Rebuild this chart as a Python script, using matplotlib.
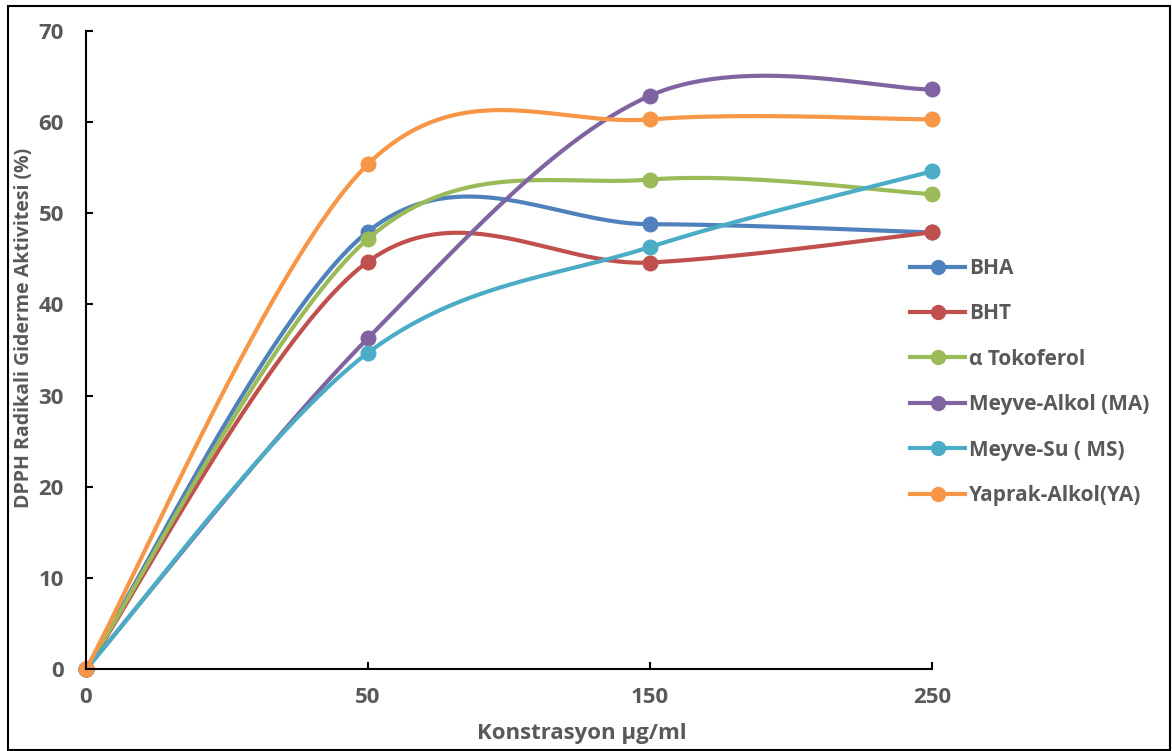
import numpy as np
import matplotlib
matplotlib.use("Agg")
import matplotlib.pyplot as plt
from matplotlib.patches import Rectangle

# data (x axis is categorical)
konsantrasyon = ["0", "50", "150", "250"]
bha = [0, 48.0, 48.8, 47.9]
bht = [0, 44.7, 44.6, 47.9]
tokoferol = [0, 47.2, 53.7, 52.1]
meyve_alkol = [0, 36.3, 62.9, 63.6]
meyve_su = [0, 34.7, 46.3, 54.6]
yaprak_alkol = [0, 55.4, 60.3, 60.3]

series = [
    ("BHA", bha, "#4F81BD"),
    ("BHT", bht, "#C0504D"),
    ("\u03b1 Tokoferol", tokoferol, "#9BBB59"),
    ("Meyve-Alkol (MA)", meyve_alkol, "#8064A2"),
    ("Meyve-Su ( MS)", meyve_su, "#4BACC6"),
    ("Yaprak-Alkol(YA)", yaprak_alkol, "#F79646"),
]

GRAY = "#595959"
plt.rcParams['font.family'] = ['Open Sans', 'DejaVu Sans']
plt.rcParams['font.weight'] = 'bold'


def smooth(xs, ys, n=60):
    """ Excel-like smoothed line (Catmull-Rom as cubic Bezier) """
    p = np.column_stack([xs, ys]).astype(float)
    ext = np.vstack([p[0], p, p[-1]])
    out = []
    t = np.linspace(0, 1, n)[:, None]
    for i in range(len(p) - 1):
        p0, p3 = p[i], p[i + 1]
        c1 = p0 + (ext[i + 2] - ext[i]) / 6.0
        c2 = p3 - (ext[i + 3] - ext[i + 1]) / 6.0
        seg = ((1 - t) ** 3) * p0 + 3 * ((1 - t) ** 2) * t * c1 \
            + 3 * (1 - t) * t ** 2 * c2 + t ** 3 * p3
        out.append(seg if i == 0 else seg[1:])
    seg = np.vstack(out)
    return seg[:, 0], seg[:, 1]


fig = plt.figure(figsize=(11.72, 7.51), dpi=100)
ax = fig.add_axes([86 / 1172, 1 - 669 / 751, (932 - 86) / 1172, (669 - 31) / 751])

xs = np.arange(len(konsantrasyon))
for label, vals, color in series:
    sx, sy = smooth(xs, vals)
    ax.plot(sx, sy, color=color, lw=3.0, solid_capstyle='round', clip_on=False)
    ax.plot(xs, vals, 'o', color=color, ms=10.5, clip_on=False)
    # legend proxy
    ax.plot([], [], '-o', color=color, lw=3.0, ms=10, label=label)

ax.set_xlim(0, 3)
ax.set_ylim(0, 70)
ax.set_xticks(xs)
ax.set_xticklabels(konsantrasyon)
ax.set_yticks(np.arange(0, 71, 10))

for s in ['top', 'right']:
    ax.spines[s].set_visible(False)
for s in ['left', 'bottom']:
    ax.spines[s].set_color('black')
    ax.spines[s].set_linewidth(1.5)

ax.tick_params(direction='in', length=5, width=1.5, colors='black',
               labelcolor=GRAY, labelsize=16)
ax.tick_params(axis='y', pad=16)
ax.tick_params(axis='x', pad=13)

ax.set_xlabel('Konstrasyon \u00b5g/ml', fontsize=16, color=GRAY, fontweight='bold')
ax.set_ylabel('DPPH Radikali Giderme Aktivitesi (%)', fontsize=14, color=GRAY,
              fontweight='bold')
ax.xaxis.set_label_coords(0.586, -0.085)
ax.yaxis.set_label_coords(-0.061, 0.535)

leg = ax.legend(loc='upper left', bbox_to_anchor=(910 / 1172, 1 - 258 / 751),
                bbox_transform=fig.transFigure, frameon=False, fontsize=15,
                handlelength=2.64, handletextpad=0.2, labelspacing=1.17,
                borderaxespad=0, borderpad=0)
for txt in leg.get_texts():
    txt.set_color(GRAY)
    txt.set_fontweight('bold')

# chart border
fig.patches.append(Rectangle((8 / 1172, 1 / 751), 1 - 10 / 1172, 1 - 7 / 751,
                             transform=fig.transFigure, fill=False,
                             edgecolor='black', linewidth=1.5))

fig.savefig('out.png', dpi=100)
